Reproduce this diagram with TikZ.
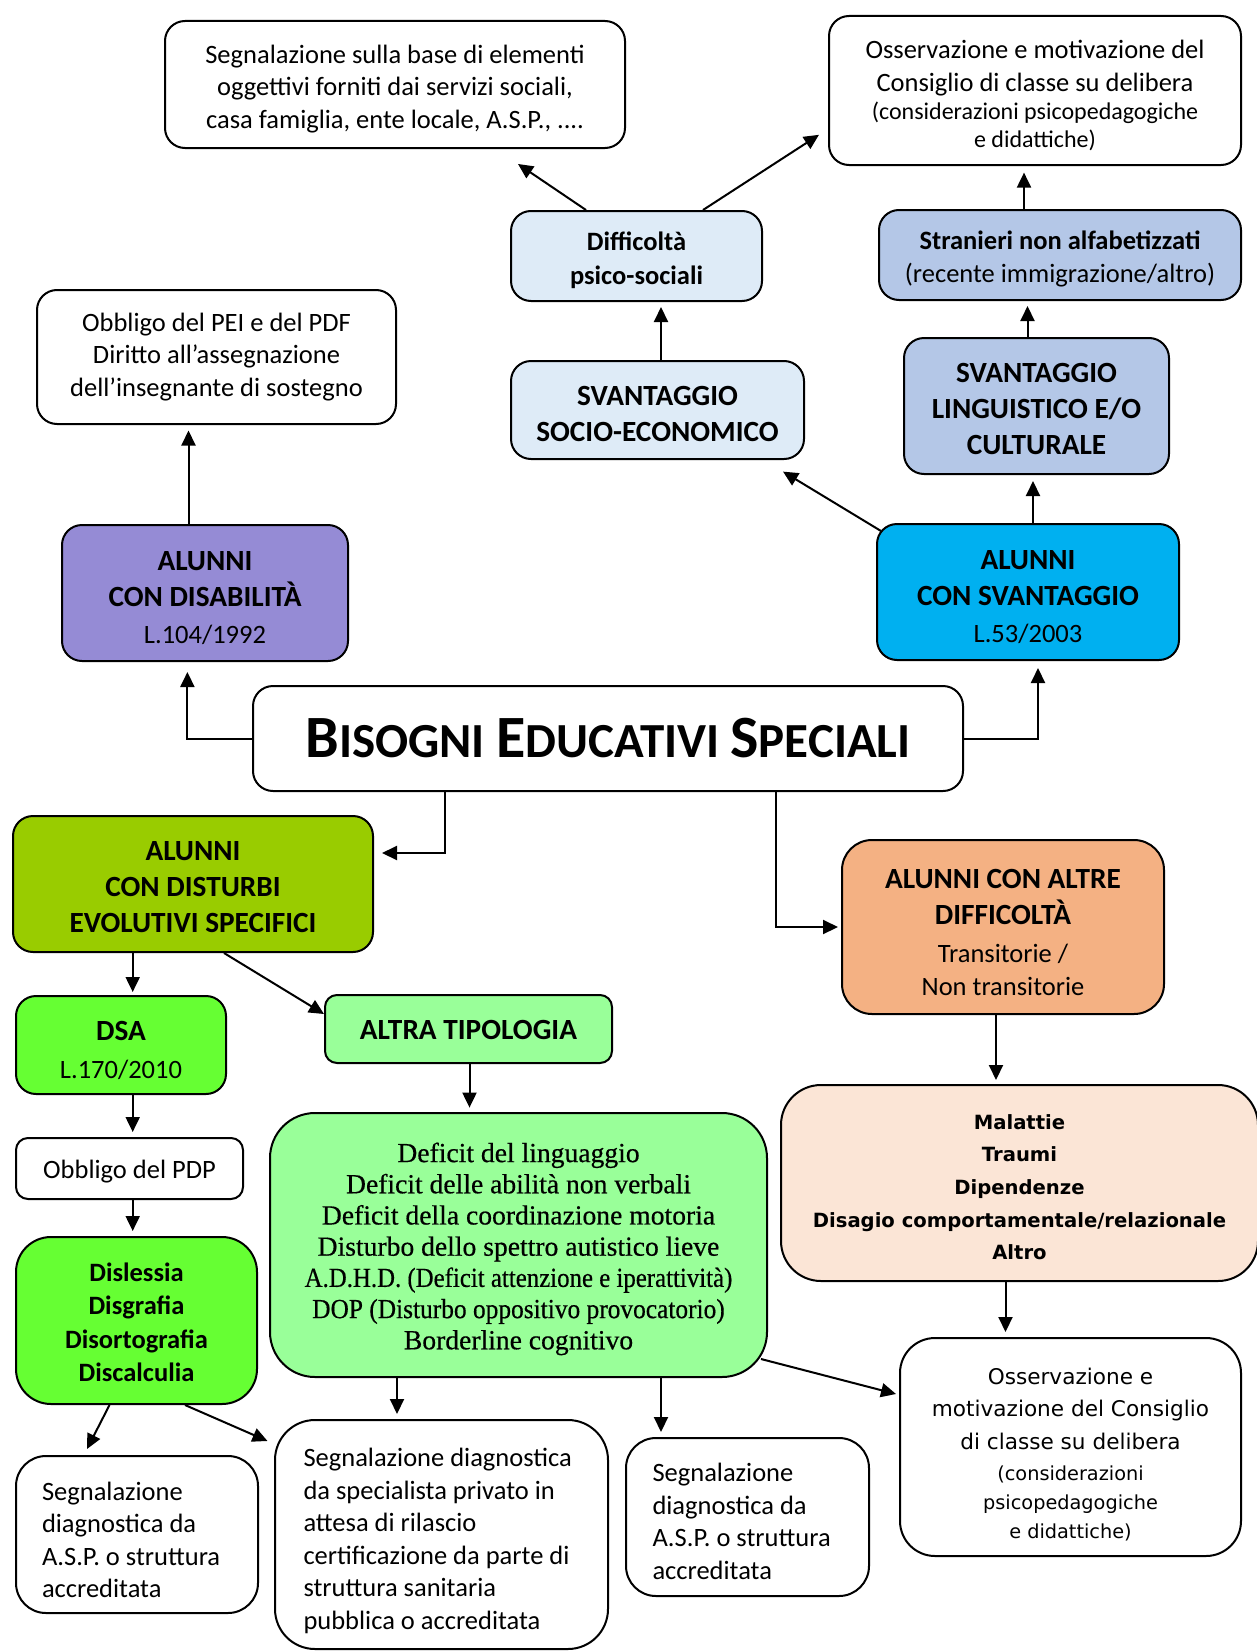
\documentclass[tikz,border=0pt]{standalone}
\usepackage{fontspec}
\usepackage{graphicx}
\setmainfont{Carlito}
\newfontfamily\dvfont{DejaVu Sans}
\newfontfamily\tmsfont[FakeBold=0.5]{Liberation Serif}
\usetikzlibrary{arrows.meta}
\setlength\parindent{0pt}
\setlength\parskip{0pt}
\definecolor{lblue}{RGB}{222,235,247}
\definecolor{mblue}{RGB}{180,199,231}
\definecolor{purp}{RGB}{149,139,213}
\definecolor{svcol}{RGB}{0,176,240}
\definecolor{dscol}{RGB}{153,204,0}
\definecolor{orng}{RGB}{244,177,131}
\definecolor{lgreen}{RGB}{102,255,51}
\definecolor{pgreen}{RGB}{153,255,153}
\definecolor{peach}{RGB}{251,229,214}
\newcommand\nsp{\spaceskip=\fontdimen2\font\xspaceskip=\fontdimen2\font\relax}
\newcommand\txtR{\fontsize{26.5}{32.5}\selectfont\nsp}
\newcommand\txtB{\fontsize{29.3}{35.7}\selectfont\bfseries\nsp}
\newcommand\txtBS{\fontsize{26.5}{33.5}\selectfont\bfseries\nsp}
\newcommand\txtS{\fontsize{24}{28.4}\selectfont\nsp}
\newcommand\topgap[1]{\rule{0pt}{#1}}
\tikzset{
  box/.style={draw, line width=2pt, rounded corners=20pt, align=center, inner sep=0pt, anchor=center},
  arr/.style={line width=2pt, -{Triangle[length=15pt,width=14pt]}},
}
\begin{document}
\begin{tikzpicture}[x=1pt,y=-1pt]
\path[fill=white, use as bounding box] (0,0) rectangle (1257,1651);

% top row
\node[box, fill=white, minimum width=460pt, minimum height=127pt, text width=450pt] (seg) at (395,84.5)
  {\txtR\topgap{27pt}Segnalazione sulla base di elementi\\oggettivi forniti dai servizi sociali,\\casa famiglia, ente locale, A.S.P., ....\par};
\node[box, fill=white, minimum width=412pt, minimum height=149pt, text width=400pt] (oss1) at (1035,90.5)
  {{\txtR\topgap{29pt}Osservazione e motivazione del\\Consiglio di classe su delibera\par}{\txtS (considerazioni psicopedagogiche\\e didattiche)\par}};
\node[box, fill=lblue, minimum width=251pt, minimum height=90pt, text width=240pt] (diff) at (636.5,256)
  {\txtBS\topgap{27pt}Difficoltà\\psico-sociali\par};
\node[box, fill=mblue, minimum width=362pt, minimum height=90pt, text width=350pt] (stran) at (1060,255)
  {{\txtBS\topgap{27pt}Stranieri non alfabetizzati\par}{\txtR (recente immigrazione/altro)\par}};
\node[box, fill=white, minimum width=359pt, minimum height=134pt, text width=345pt] (pei) at (216.5,357)
  {\txtR Obbligo del PEI e del PDF\\Diritto all’assegnazione\\dell’insegnante di sostegno\par};
\node[box, fill=lblue, minimum width=293pt, minimum height=98pt, text width=285pt] (socio) at (657.5,410)
  {\txtB\topgap{26.5pt}SVANTAGGIO\\SOCIO-ECONOMICO\par};
\node[box, fill=mblue, minimum width=265pt, minimum height=136pt, text width=255pt] (ling) at (1036.5,406)
  {\txtB\topgap{25.6pt}SVANTAGGIO\\LINGUISTICO E/O\\CULTURALE\par};
\node[box, fill=purp, minimum width=286pt, minimum height=136pt, text width=275pt] (disab) at (205,593)
  {{\txtB\topgap{29.4pt}ALUNNI\\CON DISABILITÀ\par}\vspace{5pt}{\txtR L.104/1992\par}};
\node[box, fill=svcol, minimum width=302pt, minimum height=136pt, text width=290pt] (svant) at (1028,592)
  {{\txtB\topgap{29.4pt}ALUNNI\\CON SVANTAGGIO\par}\vspace{5pt}{\txtR L.53/2003\par}};

% title
\node[box, fill=white, minimum width=710pt, minimum height=105pt] (bes) at (608,738.5)
  {\bfseries\fontsize{60}{62}\selectfont B\fontsize{49}{62}\selectfont ISOGNI \fontsize{60}{62}\selectfont E\fontsize{49}{62}\selectfont DUCATIVI \fontsize{60}{62}\selectfont S\fontsize{49}{62}\selectfont PECIALI};

% middle
\node[box, fill=dscol, minimum width=360pt, minimum height=136pt, text width=350pt] (dist) at (193,884)
  {\txtB\topgap{25.2pt}ALUNNI\\CON DISTURBI\\EVOLUTIVI SPECIFICI\par};
\node[box, fill=orng, rounded corners=30pt, minimum width=322pt, minimum height=174pt, text width=310pt] (altre) at (1003,927)
  {{\txtB\topgap{29.8pt}ALUNNI CON ALTRE\\DIFFICOLTÀ\par}\vspace{6pt}{\txtR Transitorie /\\Non transitorie\par}};
\node[box, fill=lgreen, minimum width=210pt, minimum height=98pt, text width=200pt] (dsa) at (121,1045)
  {{\txtB\topgap{29.8pt}DSA\par}\vspace{5pt}{\txtR L.170/2010\par}};
\node[box, fill=pgreen, rounded corners=12pt, minimum width=287pt, minimum height=68pt, text width=277pt] (altra) at (468.5,1029)
  {\txtB\topgap{21pt}ALTRA TIPOLOGIA\par};
\node[box, fill=white, rounded corners=12pt, minimum width=227pt, minimum height=61pt, text width=217pt] (pdp) at (129.5,1168.5)
  {\txtR\topgap{25pt}Obbligo del PDP\par};
\node[box, fill=pgreen, rounded corners=45pt, minimum width=497pt, minimum height=264pt, text width=485pt] (deficit) at (518.5,1245)
  {\tmsfont\fontsize{27.6}{31.2}\selectfont\nsp\topgap{27.3pt}Deficit del linguaggio\\Deficit delle abilità non verbali\\Deficit della coordinazione motoria\\Disturbo dello spettro autistico lieve\\\scalebox{0.9}[1]{A.D.H.D. (Deficit attenzione e iperattività)}\\\scalebox{0.92}[1]{DOP (Disturbo oppositivo provocatorio)}\\Borderline cognitivo\par};
\node[box, fill=peach, rounded corners=40pt, minimum width=477pt, minimum height=196pt, text width=467pt] (mal) at (1019.5,1183)
  {\dvfont\bfseries\fontsize{19.6}{32.6}\selectfont\nsp\topgap{23.3pt}Malattie\\Traumi\\Dipendenze\\Disagio comportamentale/relazionale\\Altro\par};
\node[box, fill=lgreen, rounded corners=35pt, minimum width=241pt, minimum height=167pt, text width=230pt] (dis) at (136.5,1320.5)
  {\txtBS\topgap{21.8pt}Dislessia\\Disgrafia\\Disortografia\\Discalculia\par};

% bottom
\node[box, fill=white, rounded corners=35pt, minimum width=341pt, minimum height=218pt, text width=330pt] (oss2) at (1070.5,1447)
  {{\dvfont\fontsize{21.6}{32.5}\selectfont\nsp\topgap{30.8pt}Osservazione e\\motivazione del Consiglio\\di classe su delibera\par}\vspace{2pt}{\dvfont\fontsize{19.3}{29}\selectfont\nsp (considerazioni\\psicopedagogiche\\e didattiche)\par}};
\node[box, fill=white, rounded corners=30pt, align=left, minimum width=242pt, minimum height=157pt, text width=190pt] (seg1) at (137,1534.5)
  {\txtR\topgap{29.1pt}Segnalazione\\diagnostica da\\A.S.P. o struttura\\accreditata\par};
\node[box, fill=white, rounded corners=40pt, align=left, minimum width=333pt, minimum height=229pt, text width=276pt] (seg2) at (441.5,1534.5)
  {\txtR\topgap{31.2pt}Segnalazione diagnostica\\da specialista privato in\\attesa di rilascio\\certificazione da parte di\\struttura sanitaria\\pubblica o accreditata\par};
\node[box, fill=white, rounded corners=30pt, align=left, minimum width=243pt, minimum height=158pt, text width=190pt] (seg3) at (747.5,1517)
  {\txtR\topgap{27pt}Segnalazione\\diagnostica da\\A.S.P. o struttura\\accreditata\par};

% connectors
\draw[arr, shorten >=10pt] (bes.west) -| ([xshift=-17.6pt]disab.south);
\draw[arr, shorten >=7pt] (bes.east) -| ([xshift=10pt]svant.south);
\draw[arr, shorten >=8pt] ([xshift=-163pt]bes.south) |- ([yshift=31pt]dist.east);
\draw[arr, shorten >=3pt] ([xshift=168pt]bes.south) |- (altre.west);
\draw[arr, shorten >=5.5pt] ([xshift=-16.5pt]disab.north) -- ([xshift=-28pt]pei.south);
\draw[arr] ([xshift=5pt,yshift=-8pt]svant.north west) -- ([xshift=-22pt,yshift=-11.6pt]socio.south east);
\draw[arr, shorten >=6pt] ([xshift=5pt]svant.north) -- ([xshift=-3.5pt]ling.south);
\draw[arr, shorten >=5pt] ([xshift=-9pt]ling.north) -- ([xshift=-32.5pt]stran.south);
\draw[arr, shorten >=6.6pt] ([xshift=-36pt]stran.north) -- ([xshift=-11pt]oss1.south);
\draw[arr, shorten >=5pt] ([xshift=3.5pt]socio.north) -- ([xshift=24.5pt]diff.south);
\draw[arr] ([xshift=-50.5pt]diff.north) -- ([xshift=123pt,yshift=-15pt]seg.south);
\draw[arr] ([xshift=66.5pt]diff.north) -- ([xshift=-9pt,yshift=-44.3pt]oss1.west);
\draw[arr, shorten >=3pt] ([xshift=-60.3pt]dist.south) -- ([xshift=11.7pt]dsa.north);
\draw[arr] ([xshift=31pt]dist.south) -- ([yshift=15pt]altra.west);
\draw[arr, shorten >=4.4pt] ([xshift=1pt]altra.south) -- ([xshift=-49pt]deficit.north);
\draw[arr, shorten >=5pt] ([xshift=11.7pt]dsa.south) -- ([xshift=3.2pt]pdp.north);
\draw[arr, shorten >=5pt] ([xshift=3.2pt]pdp.south) -- ([xshift=-3.8pt]dis.north);
\draw[arr] ([xshift=-27pt]dis.south) -- ([xshift=-50pt,yshift=6pt]seg1.north);
\draw[arr] ([xshift=48.5pt]dis.south) -- ([xshift=-6.5pt,yshift=-22pt]seg2.north west);
\draw[arr, shorten >=5pt] ([xshift=-121.5pt]deficit.south) -- ([xshift=-44.5pt]seg2.north);
\draw[arr, shorten >=5pt] ([xshift=142.5pt]deficit.south) -- ([xshift=-86.5pt]seg3.north);
\draw[arr] ([xshift=-7pt,yshift=19pt]deficit.south east) -- ([xshift=-3pt,yshift=53pt]oss2.west);
\draw[arr, shorten >=4pt] ([xshift=-7pt]altre.south) -- ([xshift=-23.5pt]mal.north);
\draw[arr, shorten >=5pt] ([xshift=-14pt]mal.south) -- ([xshift=-65pt]oss2.north);
\end{tikzpicture}
\end{document}
